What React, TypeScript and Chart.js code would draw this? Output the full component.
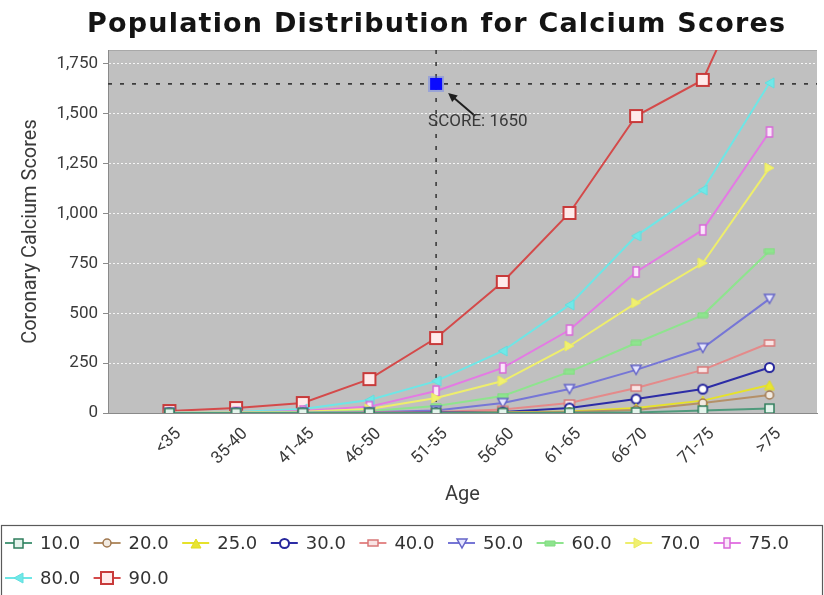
import React, { useEffect, useRef } from 'react';
import { Chart, registerables } from 'chart.js';

Chart.register(...registerables);

// ---------- data ----------
const ageGroups = ['<35', '35-40', '41-45', '46-50', '51-55', '56-60', '61-65', '66-70', '71-75', '>75'];
const percentileLabels = ['10.0', '20.0', '25.0', '30.0', '40.0', '50.0', '60.0', '70.0', '75.0', '80.0', '90.0'];

const p10 = [0, 0, 0, 0, 0, 0, 1, 3, 12, 22];
const p20 = [0, 0, 0, 0, 0, 1, 5, 15, 50, 90];
const p25 = [0, 0, 0, 0, 0, 2, 8, 25, 62, 140];
const p30 = [0, 0, 0, 0, 2, 5, 25, 70, 120, 228];
const p40 = [0, 0, 0, 2, 5, 18, 50, 125, 216, 351];
const p50 = [0, 0, 1, 4, 12, 50, 120, 216, 326, 572];
const p60 = [0, 1, 3, 10, 35, 85, 206, 351, 491, 812];
const p70 = [1, 2, 6, 20, 75, 160, 336, 552, 752, 1229];
const p75 = [1, 3, 10, 32, 110, 226, 416, 707, 918, 1409];
const p80 = [2, 5, 20, 65, 160, 311, 542, 888, 1118, 1655];
const p90 = [10, 25, 50, 170, 376, 657, 1003, 1489, 1670, 2400];

const seriesValues = [p10, p20, p25, p30, p40, p50, p60, p70, p75, p80, p90];

const yTickValues = [0, 250, 500, 750, 1000, 1250, 1500, 1750];
const yAxisMax = 1820;

const scoreAgeIndex = 4; // 51-55
const scoreValue = 1650;
const scoreLabel = 'SCORE: 1650';

const chartTitle = 'Population Distribution for Calcium Scores';
const xAxisTitle = 'Age';
const yAxisTitle = 'Coronary Calcium Scores';

// ---------- styles ----------
const lineColors = ['#4f9a7c', '#b49068', '#e6e22a', '#2c2ca6', '#e48a8a', '#7676d6', '#8ee48e', '#eeee6c', '#e47ae4', '#6ee6e6', '#d44a4a'];
const markerStroke = ['#2f7d5c', '#a07850', '#e0dc20', '#26269c', '#d87878', '#6464c8', '#80dc80', '#eaea60', '#d868d8', '#60dede', '#c83a3a'];
const markerFill = ['#e4f4ec', '#f2ebe2', '#e8e430', '#ffffff', '#f8e4e4', '#e6e6ff', '#8ee48e', '#f0f070', '#fae6fa', '#70e8e8', '#ffeaea'];
const markerShape = ['rect', 'circle', 'triUp', 'circle', 'rect', 'triDown', 'rect', 'triRight', 'rect', 'triLeft', 'rect'];
const markerW = [9, 8, 10, 9, 10, 10, 10, 9, 6, 9, 12];
const markerH = [9, 8, 9, 9, 6, 9, 5, 10, 10, 10, 12];
const markerLW = [1.5, 1.5, 1, 2, 1.5, 1.5, 1, 1, 1.5, 1, 2];
const lineWidths = [2, 2, 2, 2, 2, 2, 2, 2, 2, 2, 2];

const tickFont = { family: 'Roboto', size: 17 };
const axisTitleFont = { family: 'Roboto', size: 20 };
const textColor = '#3a3a3a';

function makeMarker(shape: string, stroke: string, fill: string, w: number, h: number, lw: number): HTMLCanvasElement {
  const pad = Math.ceil(lw);
  const c = document.createElement('canvas');
  c.width = Math.round(w + pad * 2);
  c.height = Math.round(h + pad * 2);
  const g = c.getContext('2d') as CanvasRenderingContext2D;
  g.translate(pad, pad);
  g.beginPath();
  if (shape === 'rect') g.rect(0, 0, w, h);
  else if (shape === 'circle') g.ellipse(w / 2, h / 2, w / 2, h / 2, 0, 0, Math.PI * 2);
  else if (shape === 'triUp') { g.moveTo(w / 2, 0); g.lineTo(w, h); g.lineTo(0, h); g.closePath(); }
  else if (shape === 'triDown') { g.moveTo(0, 0); g.lineTo(w, 0); g.lineTo(w / 2, h); g.closePath(); }
  else if (shape === 'triRight') { g.moveTo(0, 0); g.lineTo(w, h / 2); g.lineTo(0, h); g.closePath(); }
  else if (shape === 'triLeft') { g.moveTo(w, 0); g.lineTo(0, h / 2); g.lineTo(w, h); g.closePath(); }
  g.fillStyle = fill;
  g.fill();
  g.lineWidth = lw;
  g.strokeStyle = stroke;
  g.stroke();
  return c;
}

function makeBlueSquare(): HTMLCanvasElement {
  const c = document.createElement('canvas');
  c.width = 16; c.height = 16;
  const g = c.getContext('2d') as CanvasRenderingContext2D;
  g.fillStyle = 'rgba(80,110,255,0.35)';
  g.fillRect(0, 0, 16, 16);
  g.fillStyle = '#0a0aff';
  g.fillRect(2, 2, 12, 12);
  return c;
}

export default function App() {
  const canvasRef = useRef<HTMLCanvasElement | null>(null);

  useEffect(() => {
    const canvas = canvasRef.current;
    if (!canvas) return;

    const markers = percentileLabels.map((_, i) =>
      makeMarker(markerShape[i], markerStroke[i], markerFill[i], markerW[i], markerH[i], markerLW[i])
    );
    const blue = makeBlueSquare();

    const datasets: any[] = percentileLabels.map((label, i) => ({
      type: 'line',
      label,
      data: seriesValues[i].map((v, j) => ({ x: j, y: v })),
      borderColor: lineColors[i],
      backgroundColor: lineColors[i],
      borderWidth: lineWidths[i],
      pointStyle: markers[i],
      pointRadius: 5,
      tension: 0,
      fill: false,
    }));
    datasets.push({
      type: 'line',
      label: 'score',
      data: [{ x: scoreAgeIndex, y: scoreValue }],
      showLine: false,
      pointStyle: blue,
      pointRadius: 6,
      order: -1,
    });

    const backgroundPlugin = {
      id: 'plotBg',
      beforeDraw(chart: any) {
        const { ctx, chartArea: a, width, height } = chart;
        ctx.save();
        ctx.fillStyle = '#ffffff';
        ctx.fillRect(0, 0, width, height);
        ctx.fillStyle = '#c0c0c0';
        ctx.fillRect(a.left, a.top, a.right - a.left, a.bottom - a.top);
        ctx.strokeStyle = '#a8a8a8';
        ctx.lineWidth = 1;
        ctx.beginPath();
        ctx.moveTo(a.left, a.top + 0.5);
        ctx.lineTo(a.right, a.top + 0.5);
        ctx.stroke();
        ctx.restore();
      },
    };

    const crosshairPlugin = {
      id: 'crosshair',
      beforeDatasetsDraw(chart: any) {
        const { ctx, chartArea: a, scales } = chart;
        const px = scales.x.getPixelForValue(scoreAgeIndex);
        const py = scales.y.getPixelForValue(scoreValue);
        ctx.save();
        ctx.strokeStyle = '#3c3c3c';
        ctx.lineWidth = 1.6;
        ctx.setLineDash([4, 8]);
        ctx.beginPath();
        ctx.moveTo(a.left, py);
        ctx.lineTo(a.right, py);
        ctx.moveTo(px, a.top);
        ctx.lineTo(px, a.bottom);
        ctx.stroke();
        ctx.restore();
      },
      afterDatasetsDraw(chart: any) {
        const { ctx, scales } = chart;
        const px = scales.x.getPixelForValue(scoreAgeIndex);
        const py = scales.y.getPixelForValue(scoreValue);
        ctx.save();
        // arrow
        const tipX = px + 12, tipY = py + 9;
        const tailX = px + 39, tailY = py + 32;
        const ang = Math.atan2(tipY - tailY, tipX - tailX);
        ctx.strokeStyle = '#1e1e1e';
        ctx.fillStyle = '#1e1e1e';
        ctx.lineWidth = 2;
        ctx.beginPath();
        ctx.moveTo(tailX, tailY);
        ctx.lineTo(tipX - Math.cos(ang) * 4, tipY - Math.sin(ang) * 4);
        ctx.stroke();
        ctx.beginPath();
        ctx.moveTo(tipX, tipY);
        ctx.lineTo(tipX - Math.cos(ang - 0.45) * 10, tipY - Math.sin(ang - 0.45) * 10);
        ctx.lineTo(tipX - Math.cos(ang + 0.45) * 10, tipY - Math.sin(ang + 0.45) * 10);
        ctx.closePath();
        ctx.fill();
        // label
        ctx.font = '17px Roboto';
        ctx.fillStyle = '#383838';
        ctx.textAlign = 'left';
        ctx.textBaseline = 'middle';
        ctx.fillText(scoreLabel, px - 8, py + 38);
        ctx.restore();
      },
    };

    const titleLegendPlugin = {
      id: 'titleLegend',
      afterDraw(chart: any) {
        const { ctx, width } = chart;
        ctx.save();
        // title
        ctx.font = 'bold 27px "DejaVu Sans"';
        try { (ctx as any).letterSpacing = '1.2px'; } catch (e) { /* ignore */ }
        ctx.fillStyle = '#141414';
        ctx.textAlign = 'left';
        ctx.textBaseline = 'alphabetic';
        ctx.fillText(chartTitle, 87, 32);
        try { (ctx as any).letterSpacing = '0px'; } catch (e) { /* ignore */ }
        // legend box
        ctx.strokeStyle = '#5a5a5a';
        ctx.lineWidth = 1.2;
        ctx.strokeRect(1.5, 525.5, width - 3, 100);
        // legend items
        ctx.font = '18px "DejaVu Sans"';
        ctx.textBaseline = 'middle';
        const perRow = 9;
        const pitch = 88.6;
        percentileLabels.forEach((label, i) => {
          const row = Math.floor(i / perRow);
          const col = i % perRow;
          const x0 = 5 + col * pitch;
          const y = row === 0 ? 543 : 578;
          ctx.strokeStyle = lineColors[i];
          ctx.lineWidth = 2;
          ctx.beginPath();
          ctx.moveTo(x0, y);
          ctx.lineTo(x0 + 27, y);
          ctx.stroke();
          const m = markers[i];
          ctx.drawImage(m, Math.round(x0 + 13.5 - m.width / 2), Math.round(y - m.height / 2));
          ctx.fillStyle = '#333333';
          ctx.fillText(label, x0 + 35, y + 1);
        });
        ctx.restore();
      },
    };

    const chart = new Chart(canvas, {
      type: 'line',
      data: { datasets },
      plugins: [backgroundPlugin, crosshairPlugin, titleLegendPlugin],
      options: {
        animation: false,
        responsive: false,
        maintainAspectRatio: false,
        layout: { padding: { top: 50, left: 0, right: 0, bottom: 75 } },
        plugins: {
          legend: { display: false },
          title: { display: false },
          tooltip: { enabled: false },
        },
        scales: {
          x: {
            type: 'linear',
            min: -0.921,
            max: 9.713,
            afterBuildTicks: (s: any) => {
              s.ticks = ageGroups.map((_, i) => ({ value: i }));
            },
            afterFit: (s: any) => {
              s.height = 107;
            },
            ticks: {
              autoSkip: false,
              minRotation: 45,
              maxRotation: 45,
              padding: 3,
              labelOffset: 9,
              font: tickFont,
              color: textColor,
              callback: (v: any) => ageGroups[v as number] ?? '',
            },
            grid: { display: false },
            border: { display: true, color: '#8a8a8a', width: 1 },
            title: {
              display: true,
              text: xAxisTitle,
              font: axisTitleFont,
              color: textColor,
              padding: { top: 0, bottom: 13 },
            },
          },
          y: {
            type: 'linear',
            min: 0,
            max: yAxisMax,
            afterBuildTicks: (s: any) => {
              s.ticks = yTickValues.map((v) => ({ value: v }));
            },
            afterFit: (s: any) => {
              s.width = 108;
            },
            ticks: {
              padding: 5,
              font: tickFont,
              color: textColor,
              callback: (v: any) => Number(v).toLocaleString('en-US'),
            },
            grid: {
              color: 'rgba(255,255,255,0.85)',
              lineWidth: 1,
              tickColor: '#8a8a8a',
              tickLength: 5,
              tickBorderDash: [],
            },
            border: { display: true, color: '#8a8a8a', width: 1, dash: [2, 2] },
            title: {
              display: true,
              text: yAxisTitle,
              font: axisTitleFont,
              color: textColor,
              padding: { top: 19, bottom: 0 },
            },
          },
        },
      } as any,
    });

    return () => {
      chart.destroy();
    };
  }, []);

  return (
    <div style={{ position: 'absolute', left: 0, top: 0, width: 824, height: 595, background: '#ffffff' }}>
      <canvas ref={canvasRef} width={824} height={595} style={{ display: 'block' }} />
    </div>
  );
}
